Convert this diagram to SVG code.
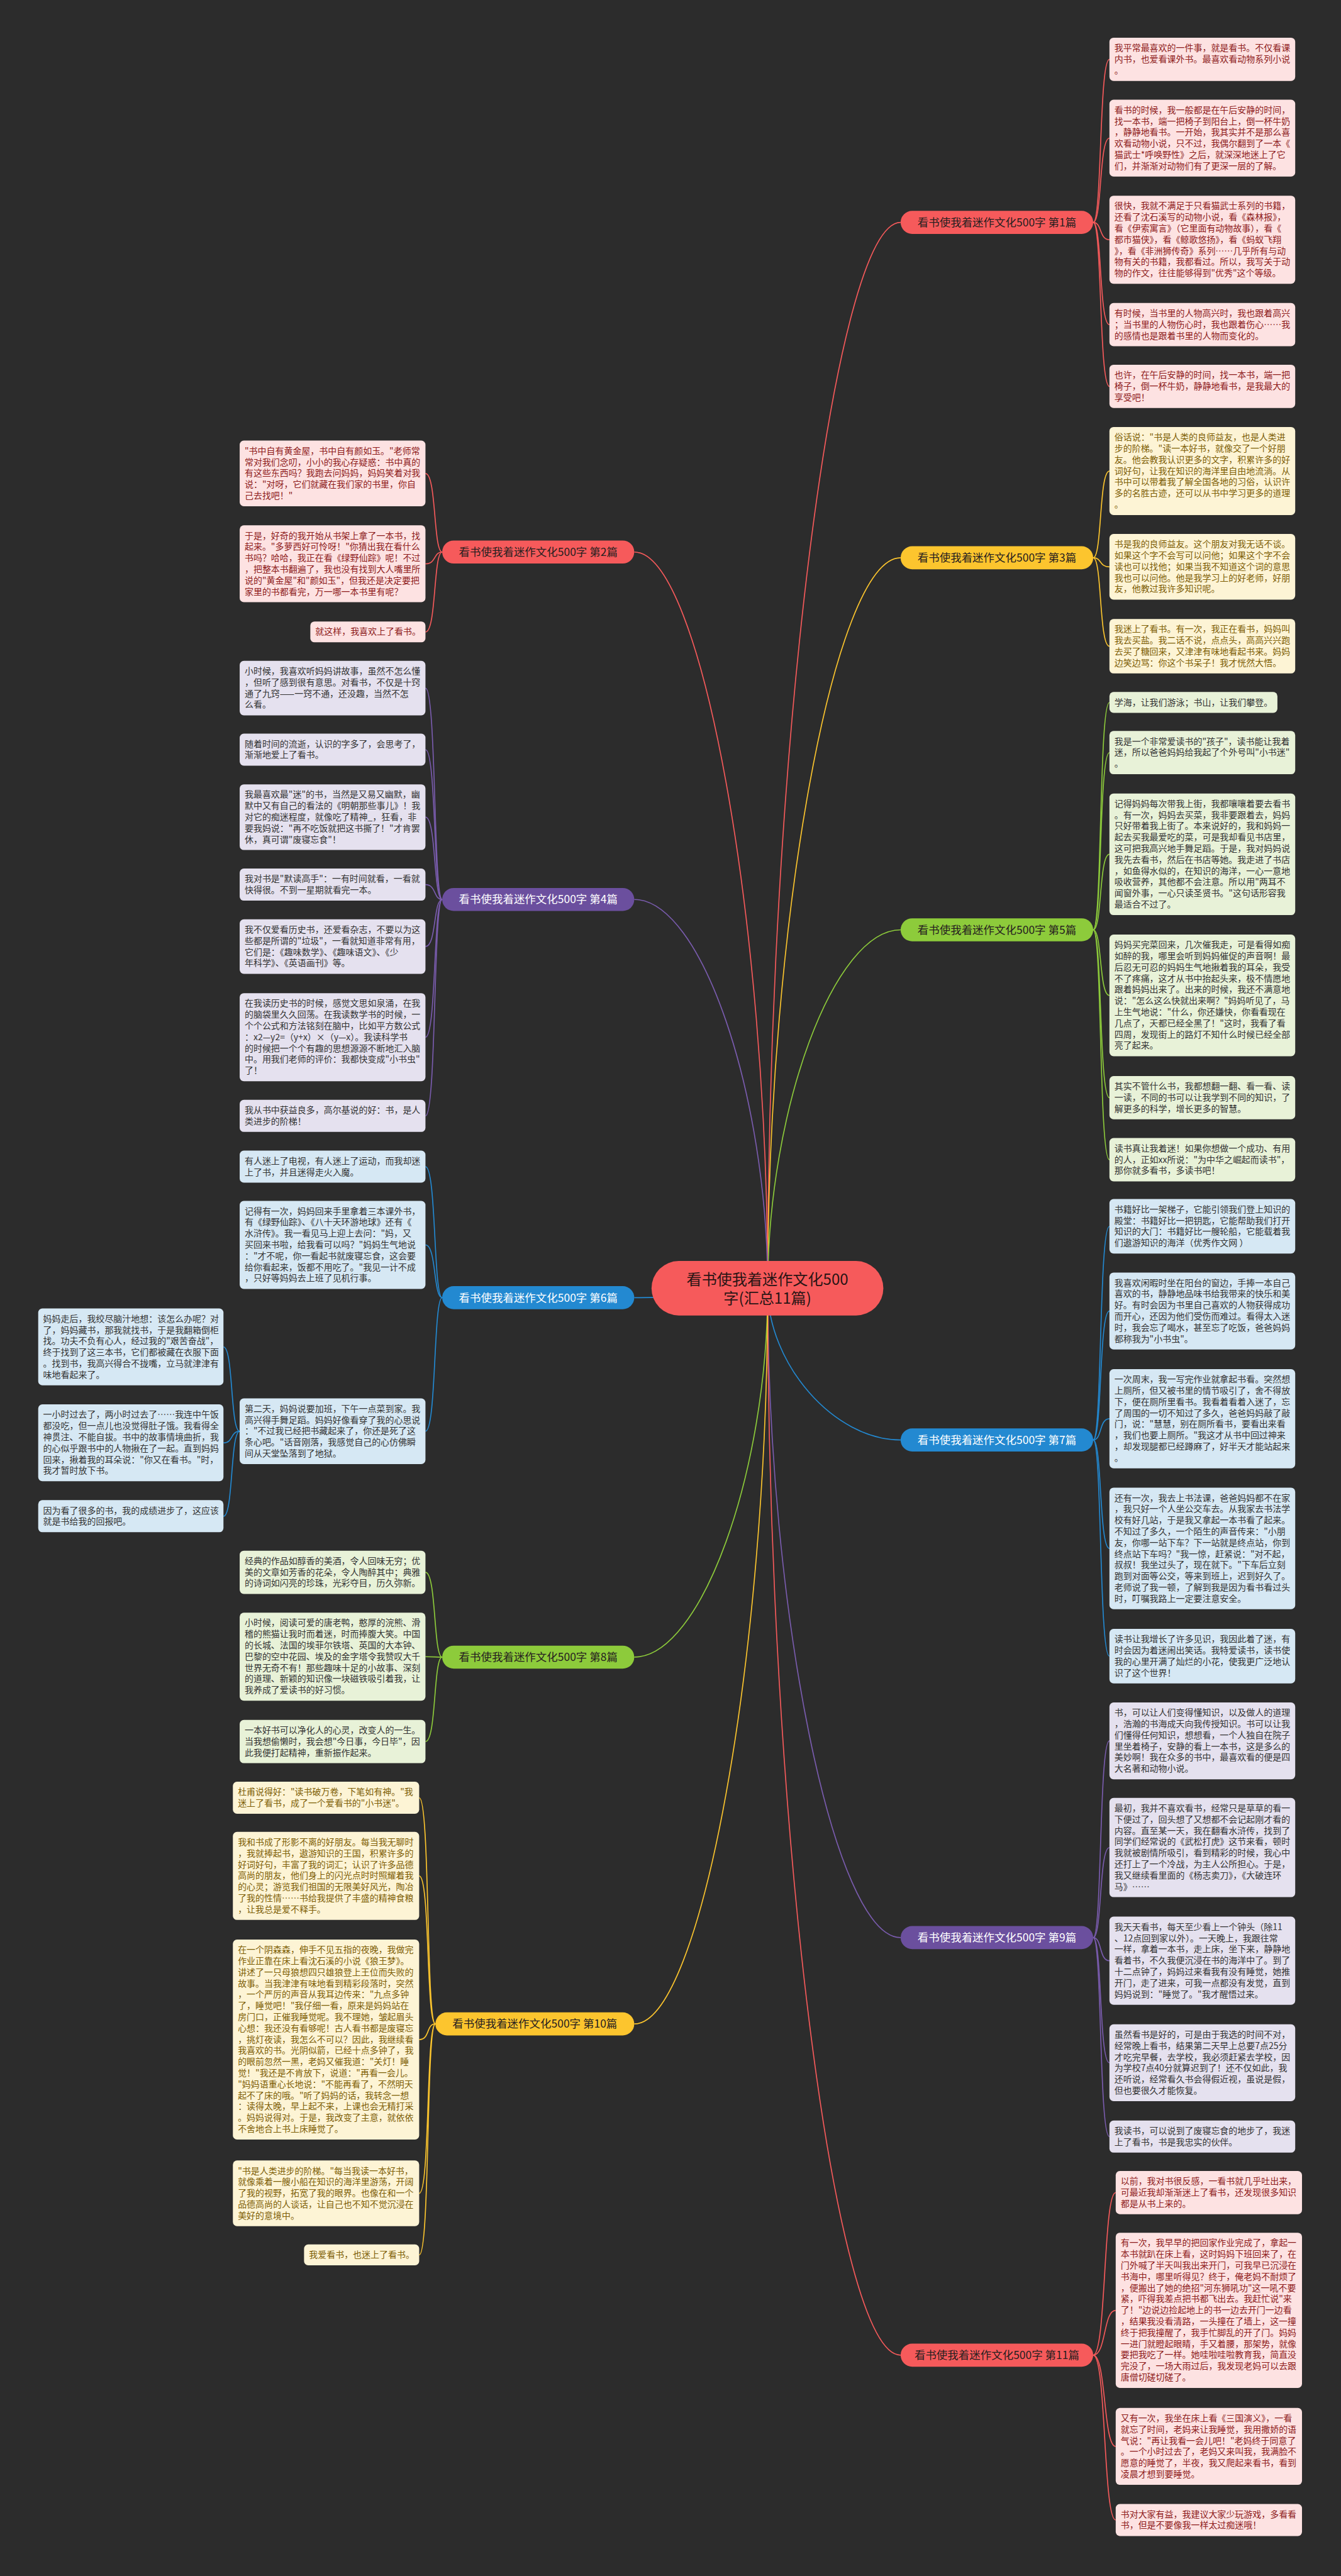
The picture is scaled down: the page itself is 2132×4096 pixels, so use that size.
<svg xmlns="http://www.w3.org/2000/svg" width="2132" height="4096" viewBox="0 0 2132 4096">
<style>
.lf{font-family:"Noto Sans CJK SC","Noto Sans",sans-serif;font-size:16.8px}
.br{font-family:"Noto Sans CJK SC","Noto Sans",sans-serif;font-size:21px;text-anchor:middle}
.ct{font-family:"Noto Sans CJK SC","Noto Sans",sans-serif;font-size:29px;text-anchor:middle;fill:#2a1515}
.bR{fill:#f65a5b}.bY{fill:#fcc52e}.bP{fill:#6b4f9e}.bG{fill:#8dcb3b}.bB{fill:#2389d1}
.kR{fill:#fde2e2}.kY{fill:#fdf4d5}.kG{fill:#e8f2d8}.kB{fill:#d6e8f4}.kP{fill:#e5e1ef}
.tR{fill:#8e1b1b}.tY{fill:#7d5e06}.tG{fill:#333}.tB{fill:#333}.tP{fill:#333}
.dk{fill:#262020}.wt{fill:#ffffff}
.c{fill:none;stroke-width:2}
.cR{stroke:#f65a5b}.cY{stroke:#fcc52e}.cP{stroke:#7a5cae}.cG{stroke:#8dcb3b}.cB{stroke:#2389d1}
</style>
<rect width="2132" height="4096" fill="#2c2c2c"/>
<g transform="scale(0.832)">
<g id="connectors">
<path class="c cR" d="M1467,2462 C1467,1443.5 1594,425 1721,425"/>
<path class="c cY" d="M1467,2462 C1467,1764 1594,1066 1721,1066"/>
<path class="c cG" d="M1467,2462 C1467,2119.5 1594,1777 1721,1777"/>
<path class="c cB" d="M1467,2462 C1467,2607 1594,2752 1721,2752"/>
<path class="c cP" d="M1467,2462 C1467,3082.5 1594,3703 1721,3703"/>
<path class="c cR" d="M1467,2462 C1467,3481.5 1594,4501 1721,4501"/>
<path class="c cR" d="M1467,2462 C1467,1758.5 1339.5,1055 1212,1055"/>
<path class="c cP" d="M1467,2462 C1467,2090.5 1339.5,1719 1212,1719"/>
<path class="c cB" d="M1467,2462 C1467,2471 1339.5,2480 1212,2480"/>
<path class="c cG" d="M1467,2462 C1467,2814.5 1339.5,3167 1212,3167"/>
<path class="c cY" d="M1467,2462 C1467,3165 1339.5,3868 1212,3868"/>
<!-- 1 -->
<path class="c cR" d="M2089,425 C2106,425 2100,113.4 2120,113.4"/>
<path class="c cR" d="M2089,425 C2106,425 2100,264.1 2120,264.1"/>
<path class="c cR" d="M2089,425 C2106,425 2100,458.2 2120,458.2"/>
<path class="c cR" d="M2089,425 C2106,425 2100,620.4 2120,620.4"/>
<path class="c cR" d="M2089,425 C2106,425 2100,738.4 2120,738.4"/>
<!-- 3 -->
<path class="c cY" d="M2089,1066 C2106,1066 2100,900.2 2120,900.2"/>
<path class="c cY" d="M2089,1066 C2106,1066 2100,1083.3 2120,1083.3"/>
<path class="c cY" d="M2089,1066 C2106,1066 2100,1235.1 2120,1235.1"/>
<!-- 5 -->
<path class="c cG" d="M2089,1777 C2106,1777 2100,1342.5 2120,1342.5"/>
<path class="c cG" d="M2089,1777 C2106,1777 2100,1438.4 2120,1438.4"/>
<path class="c cG" d="M2089,1777 C2106,1777 2100,1632.7 2120,1632.7"/>
<path class="c cG" d="M2089,1777 C2106,1777 2100,1902.3 2120,1902.3"/>
<path class="c cG" d="M2089,1777 C2106,1777 2100,2097.9 2120,2097.9"/>
<path class="c cG" d="M2089,1777 C2106,1777 2100,2216.4 2120,2216.4"/>
<!-- 7 -->
<path class="c cB" d="M2089,2752 C2106,2752 2100,2343.7 2120,2343.7"/>
<path class="c cB" d="M2089,2752 C2106,2752 2100,2505.5 2120,2505.5"/>
<path class="c cB" d="M2089,2752 C2106,2752 2100,2711.4 2120,2711.4"/>
<path class="c cB" d="M2089,2752 C2106,2752 2100,2959.3 2120,2959.3"/>
<path class="c cB" d="M2089,2752 C2106,2752 2100,3165.1 2120,3165.1"/>
<!-- 9 -->
<path class="c cP" d="M2089,3703 C2106,3703 2100,3327.1 2120,3327.1"/>
<path class="c cP" d="M2089,3703 C2106,3703 2100,3530.9 2120,3530.9"/>
<path class="c cP" d="M2089,3703 C2106,3703 2100,3747.2 2120,3747.2"/>
<path class="c cP" d="M2089,3703 C2106,3703 2100,3942.2 2120,3942.2"/>
<path class="c cP" d="M2089,3703 C2106,3703 2100,4083.4 2120,4083.4"/>
<!-- 11 -->
<path class="c cR" d="M2089,4501 C2114,4501 2108,4190.4 2132,4190.4"/>
<path class="c cR" d="M2089,4501 C2114,4501 2108,4415.4 2132,4415.4"/>
<path class="c cR" d="M2089,4501 C2114,4501 2108,4675.5 2132,4675.5"/>
<path class="c cR" d="M2089,4501 C2114,4501 2108,4816.1 2132,4816.1"/>
<!-- 2 -->
<path class="c cR" d="M845,1055 C828,1055 834,904.8 813,904.8"/>
<path class="c cR" d="M845,1055 C828,1055 834,1077.5 813,1077.5"/>
<path class="c cR" d="M845,1055 C828,1055 834,1207.7 813,1207.7"/>
<!-- 4 -->
<path class="c cP" d="M845,1719 C828,1719 834,1315.1 813,1315.1"/>
<path class="c cP" d="M845,1719 C828,1719 834,1432.7 813,1432.7"/>
<path class="c cP" d="M845,1719 C828,1719 834,1561.8 813,1561.8"/>
<path class="c cP" d="M845,1719 C828,1719 834,1690.7 813,1690.7"/>
<path class="c cP" d="M845,1719 C828,1719 834,1809.1 813,1809.1"/>
<path class="c cP" d="M845,1719 C828,1719 834,1982.2 813,1982.2"/>
<path class="c cP" d="M845,1719 C828,1719 834,2132.7 813,2132.7"/>
<!-- 6 -->
<path class="c cB" d="M845,2480 C828,2480 834,2229.7 813,2229.7"/>
<path class="c cB" d="M845,2480 C828,2480 834,2379.2 813,2379.2"/>
<path class="c cB" d="M845,2480 C828,2480 834,2735.3 813,2735.3"/>
<path class="c cB" d="M458,2735.3 C440,2735.3 446,2574.2 427,2574.2"/>
<path class="c cB" d="M458,2735.3 C440,2735.3 446,2757.5 427,2757.5"/>
<path class="c cB" d="M458,2735.3 C440,2735.3 446,2897.7 427,2897.7"/>
<!-- 8 -->
<path class="c cG" d="M845,3167 C828,3167 834,3004.9 813,3004.9"/>
<path class="c cG" d="M845,3167 C828,3167 834,3166.2 813,3166.2"/>
<path class="c cG" d="M845,3167 C828,3167 834,3328.4 813,3328.4"/>
<!-- 10 -->
<path class="c cY" d="M832,3868 C814,3868 822,3435.7 801,3435.7"/>
<path class="c cY" d="M832,3868 C814,3868 822,3585.2 801,3585.2"/>
<path class="c cY" d="M832,3868 C814,3868 822,3897.9 801,3897.9"/>
<path class="c cY" d="M832,3868 C814,3868 822,4191.8 801,4191.8"/>
<path class="c cY" d="M832,3868 C814,3868 822,4309.5 801,4309.5"/>
</g>

<g id="center"><rect class="bR" x="1245" y="2410" width="443" height="104" rx="52"/>
<text class="ct" x="1466.5" y="2456">看书使我着迷作文化500</text><text class="ct" x="1466.5" y="2492">字(汇总11篇)</text></g>

<g id="b1"><rect class="bR" x="1721" y="403" width="368" height="44" rx="22"/><text class="br dk" x="1905" y="432.5">看书使我着迷作文化500字 第1篇</text></g>
<g id="b3"><rect class="bY" x="1721" y="1044" width="368" height="44" rx="22"/><text class="br dk" x="1905" y="1073.5">看书使我着迷作文化500字 第3篇</text></g>
<g id="b5"><rect class="bG" x="1721" y="1755" width="368" height="44" rx="22"/><text class="br dk" x="1905" y="1784.5">看书使我着迷作文化500字 第5篇</text></g>
<g id="b7"><rect class="bB" x="1721" y="2730" width="368" height="44" rx="22"/><text class="br wt" x="1905" y="2759.5">看书使我着迷作文化500字 第7篇</text></g>
<g id="b9"><rect class="bP" x="1721" y="3681" width="368" height="44" rx="22"/><text class="br wt" x="1905" y="3710.5">看书使我着迷作文化500字 第9篇</text></g>
<g id="b11"><rect class="bR" x="1721" y="4479" width="368" height="44" rx="22"/><text class="br dk" x="1905" y="4508.5">看书使我着迷作文化500字 第11篇</text></g>
<g id="b2"><rect class="bR" x="845" y="1033" width="367" height="44" rx="22"/><text class="br dk" x="1028.5" y="1062.5">看书使我着迷作文化500字 第2篇</text></g>
<g id="b4"><rect class="bP" x="845" y="1697" width="367" height="44" rx="22"/><text class="br wt" x="1028.5" y="1726.5">看书使我着迷作文化500字 第4篇</text></g>
<g id="b6"><rect class="bB" x="845" y="2458" width="367" height="44" rx="22"/><text class="br wt" x="1028.5" y="2487.5">看书使我着迷作文化500字 第6篇</text></g>
<g id="b8"><rect class="bG" x="845" y="3145" width="367" height="44" rx="22"/><text class="br dk" x="1028.5" y="3174.5">看书使我着迷作文化500字 第8篇</text></g>
<g id="b10"><rect class="bY" x="832" y="3846" width="380" height="44" rx="22"/><text class="br dk" x="1022" y="3875.5">看书使我着迷作文化500字 第10篇</text></g>

<!-- Right leaves 1 -->
<g id="r1a"><rect class="kR" x="2120" y="72" width="355" height="82.7" rx="8"/><text class="lf tR" x="2129.5" y="97.5"><tspan x="2129.5" dy="0">我平常最喜欢的一件事，就是看书。不仅看课</tspan><tspan x="2129.5" dy="21.4">内书，也爱看课外书。最喜欢看动物系列小说</tspan><tspan x="2129.5" dy="21.4">。</tspan></text></g>
<g id="r1b"><rect class="kR" x="2120" y="190.6" width="355" height="146.9" rx="8"/><text class="lf tR" x="2129.5" y="216.1"><tspan x="2129.5" dy="0">看书的时候，我一般都是在午后安静的时间，</tspan><tspan x="2129.5" dy="21.4">找一本书，端一把椅子到阳台上，倒一杯牛奶</tspan><tspan x="2129.5" dy="21.4">，静静地看书。一开始，我其实并不是那么喜</tspan><tspan x="2129.5" dy="21.4">欢看动物小说，只不过，我偶尔翻到了一本《</tspan><tspan x="2129.5" dy="21.4">猫武士*呼唤野性》之后，就深深地迷上了它</tspan><tspan x="2129.5" dy="21.4">们，并渐渐对动物们有了更深一层的了解。</tspan></text></g>
<g id="r1c"><rect class="kR" x="2120" y="374" width="355" height="168.3" rx="8"/><text class="lf tR" x="2129.5" y="399.5"><tspan x="2129.5" dy="0">很快，我就不满足于只看猫武士系列的书籍，</tspan><tspan x="2129.5" dy="21.4">还看了沈石溪写的动物小说，看《森林报》，</tspan><tspan x="2129.5" dy="21.4">看《伊索寓言》（它里面有动物故事），看《</tspan><tspan x="2129.5" dy="21.4">都市猫侠》，看《鲸歌悠扬》，看《蚂蚁飞翔</tspan><tspan x="2129.5" dy="21.4">》，看《非洲狮传奇》系列……几乎所有与动</tspan><tspan x="2129.5" dy="21.4">物有关的书籍，我都看过。所以，我写关于动</tspan><tspan x="2129.5" dy="21.4">物的作文，往往能够得到"优秀"这个等级。</tspan></text></g>
<g id="r1d"><rect class="kR" x="2120" y="579" width="355" height="82.7" rx="8"/><text class="lf tR" x="2129.5" y="604.5"><tspan x="2129.5" dy="0">有时候，当书里的人物高兴时，我也跟着高兴</tspan><tspan x="2129.5" dy="21.4">；当书里的人物伤心时，我也跟着伤心……我</tspan><tspan x="2129.5" dy="21.4">的感情也是跟着书里的人物而变化的。</tspan></text></g>
<g id="r1e"><rect class="kR" x="2120" y="697" width="355" height="82.7" rx="8"/><text class="lf tR" x="2129.5" y="722.5"><tspan x="2129.5" dy="0">也许，在午后安静的时间，找一本书，端一把</tspan><tspan x="2129.5" dy="21.4">椅子，倒一杯牛奶，静静地看书，是我最大的</tspan><tspan x="2129.5" dy="21.4">享受吧！</tspan></text></g>

<!-- Right leaves 3 -->
<g id="r3a"><rect class="kY" x="2120" y="816" width="355" height="168.3" rx="8"/><text class="lf tY" x="2129.5" y="841.5"><tspan x="2129.5" dy="0">俗话说："书是人类的良师益友，也是人类进</tspan><tspan x="2129.5" dy="21.4">步的阶梯。"读一本好书，就像交了一个好朋</tspan><tspan x="2129.5" dy="21.4">友。他会教我认识更多的文字，积累许多的好</tspan><tspan x="2129.5" dy="21.4">词好句，让我在知识的海洋里自由地流淌。从</tspan><tspan x="2129.5" dy="21.4">书中可以带着我了解全国各地的习俗，认识许</tspan><tspan x="2129.5" dy="21.4">多的名胜古迹，还可以从书中学习更多的道理</tspan><tspan x="2129.5" dy="21.4">。</tspan></text></g>
<g id="r3b"><rect class="kY" x="2120" y="1020.5" width="355" height="125.5" rx="8"/><text class="lf tY" x="2129.5" y="1046"><tspan x="2129.5" dy="0">书是我的良师益友。这个朋友对我无话不谈。</tspan><tspan x="2129.5" dy="21.4">如果这个字不会写可以问他；如果这个字不会</tspan><tspan x="2129.5" dy="21.4">读也可以找他；如果当我不知道这个词的意思</tspan><tspan x="2129.5" dy="21.4">我也可以问他。他是我学习上的好老师，好朋</tspan><tspan x="2129.5" dy="21.4">友，他教过我许多知识呢。</tspan></text></g>
<g id="r3c"><rect class="kY" x="2120" y="1183" width="355" height="104.1" rx="8"/><text class="lf tY" x="2129.5" y="1208.5"><tspan x="2129.5" dy="0">我迷上了看书。有一次，我正在看书，妈妈叫</tspan><tspan x="2129.5" dy="21.4">我去买盐。我二话不说，点点头，高高兴兴跑</tspan><tspan x="2129.5" dy="21.4">去买了糖回来，又津津有味地看起书来。妈妈</tspan><tspan x="2129.5" dy="21.4">边笑边骂：你这个书呆子！我才恍然大悟。</tspan></text></g>

<!-- Right leaves 5 -->
<g id="r5a"><rect class="kG" x="2120" y="1322.5" width="321" height="39.9" rx="8"/><text class="lf tG" x="2129.5" y="1348"><tspan x="2129.5" dy="0">学海，让我们游泳；书山，让我们攀登。</tspan></text></g>
<g id="r5b"><rect class="kG" x="2120" y="1397" width="355" height="82.7" rx="8"/><text class="lf tG" x="2129.5" y="1422.5"><tspan x="2129.5" dy="0">我是一个非常爱读书的"孩子"，读书能让我着</tspan><tspan x="2129.5" dy="21.4">迷，所以爸爸妈妈给我起了个外号叫"小书迷"</tspan><tspan x="2129.5" dy="21.4">。</tspan></text></g>
<g id="r5c"><rect class="kG" x="2120" y="1516.4" width="355" height="232.5" rx="8"/><text class="lf tG" x="2129.5" y="1541.9"><tspan x="2129.5" dy="0">记得妈妈每次带我上街，我都嚷嚷着要去看书</tspan><tspan x="2129.5" dy="21.4">。有一次，妈妈去买菜，我非要跟着去，妈妈</tspan><tspan x="2129.5" dy="21.4">只好带着我上街了。本来说好的，我和妈妈一</tspan><tspan x="2129.5" dy="21.4">起去买我最爱吃的菜，可是我却看见书店里，</tspan><tspan x="2129.5" dy="21.4">这可把我高兴地手舞足蹈。于是，我对妈妈说</tspan><tspan x="2129.5" dy="21.4">我先去看书，然后在书店等她。我走进了书店</tspan><tspan x="2129.5" dy="21.4">，如鱼得水似的，在知识的海洋，一心一意地</tspan><tspan x="2129.5" dy="21.4">吸收营养，其他都不会注意。所以用"两耳不</tspan><tspan x="2129.5" dy="21.4">闻窗外事，一心只读圣贤书。"这句话形容我</tspan><tspan x="2129.5" dy="21.4">最适合不过了。</tspan></text></g>
<g id="r5d"><rect class="kG" x="2120" y="1786" width="355" height="232.5" rx="8"/><text class="lf tG" x="2129.5" y="1811.5"><tspan x="2129.5" dy="0">妈妈买完菜回来，几次催我走，可是看得如痴</tspan><tspan x="2129.5" dy="21.4">如醉的我，哪里会听到妈妈催促的声音啊！最</tspan><tspan x="2129.5" dy="21.4">后忍无可忍的妈妈生气地揪着我的耳朵，我受</tspan><tspan x="2129.5" dy="21.4">不了疼痛，这才从书中抬起头来，极不情愿地</tspan><tspan x="2129.5" dy="21.4">跟着妈妈出来了。出来的时候，我还不满意地</tspan><tspan x="2129.5" dy="21.4">说："怎么这么快就出来啊？"妈妈听见了，马</tspan><tspan x="2129.5" dy="21.4">上生气地说："什么，你还嫌快，你看看现在</tspan><tspan x="2129.5" dy="21.4">几点了，天都已经全黑了！"这时，我看了看</tspan><tspan x="2129.5" dy="21.4">四周，发现街上的路灯不知什么时候已经全部</tspan><tspan x="2129.5" dy="21.4">亮了起来。</tspan></text></g>
<g id="r5e"><rect class="kG" x="2120" y="2056.5" width="355" height="82.7" rx="8"/><text class="lf tG" x="2129.5" y="2082"><tspan x="2129.5" dy="0">其实不管什么书，我都想翻一翻、看一看、读</tspan><tspan x="2129.5" dy="21.4">一读，不同的书可以让我学到不同的知识，了</tspan><tspan x="2129.5" dy="21.4">解更多的科学，增长更多的智慧。</tspan></text></g>
<g id="r5f"><rect class="kG" x="2120" y="2175" width="355" height="82.7" rx="8"/><text class="lf tG" x="2129.5" y="2200.5"><tspan x="2129.5" dy="0">读书真让我着迷！如果你想做一个成功、有用</tspan><tspan x="2129.5" dy="21.4">的人，正如xx所说："为中华之崛起而读书"，</tspan><tspan x="2129.5" dy="21.4">那你就多看书，多读书吧！</tspan></text></g>

<!-- Right leaves 7 -->
<g id="r7a"><rect class="kB" x="2120" y="2291.6" width="355" height="104.1" rx="8"/><text class="lf tB" x="2129.5" y="2317.1"><tspan x="2129.5" dy="0">书籍好比一架梯子，它能引领我们登上知识的</tspan><tspan x="2129.5" dy="21.4">殿堂：书籍好比一把钥匙，它能帮助我们打开</tspan><tspan x="2129.5" dy="21.4">知识的大门：书籍好比一艘轮船，它能载着我</tspan><tspan x="2129.5" dy="21.4">们遨游知识的海洋（优秀作文网 ）</tspan></text></g>
<g id="r7b"><rect class="kB" x="2120" y="2432" width="355" height="146.9" rx="8"/><text class="lf tB" x="2129.5" y="2457.5"><tspan x="2129.5" dy="0">我喜欢闲暇时坐在阳台的窗边，手捧一本自己</tspan><tspan x="2129.5" dy="21.4">喜欢的书，静静地品味书给我带来的快乐和美</tspan><tspan x="2129.5" dy="21.4">好。有时会因为书里自己喜欢的人物获得成功</tspan><tspan x="2129.5" dy="21.4">而开心，还因为他们受伤而难过。看得太入迷</tspan><tspan x="2129.5" dy="21.4">时，我会忘了喝水，甚至忘了吃饭，爸爸妈妈</tspan><tspan x="2129.5" dy="21.4">都称我为"小书虫"。</tspan></text></g>
<g id="r7c"><rect class="kB" x="2120" y="2616.5" width="355" height="189.7" rx="8"/><text class="lf tB" x="2129.5" y="2642"><tspan x="2129.5" dy="0">一次周末，我一写完作业就拿起书看。突然想</tspan><tspan x="2129.5" dy="21.4">上厕所，但又被书里的情节吸引了，舍不得放</tspan><tspan x="2129.5" dy="21.4">下，便在厕所里看书。我看着看着入迷了，忘</tspan><tspan x="2129.5" dy="21.4">了周围的一切不知过了多久，爸爸妈妈敲了敲</tspan><tspan x="2129.5" dy="21.4">门，说："慧慧，别在厕所看书，要看出来看</tspan><tspan x="2129.5" dy="21.4">，我们也要上厕所。"我这才从书中回过神来</tspan><tspan x="2129.5" dy="21.4">，却发现腿都已经蹲麻了，好半天才能站起来</tspan><tspan x="2129.5" dy="21.4">。</tspan></text></g>
<g id="r7d"><rect class="kB" x="2120" y="2843" width="355" height="232.5" rx="8"/><text class="lf tB" x="2129.5" y="2868.5"><tspan x="2129.5" dy="0">还有一次，我去上书法课，爸爸妈妈都不在家</tspan><tspan x="2129.5" dy="21.4">，我只好一个人坐公交车去。从我家去书法学</tspan><tspan x="2129.5" dy="21.4">校有好几站，于是我又拿起一本书看了起来。</tspan><tspan x="2129.5" dy="21.4">不知过了多久，一个陌生的声音传来："小朋</tspan><tspan x="2129.5" dy="21.4">友，你哪一站下车？下一站就是终点站，你到</tspan><tspan x="2129.5" dy="21.4">终点站下车吗？"我一惊，赶紧说："对不起，</tspan><tspan x="2129.5" dy="21.4">叔叔！我坐过头了，现在就下。"下车后立刻</tspan><tspan x="2129.5" dy="21.4">跑到对面等公交，等来到班上，迟到好久了。</tspan><tspan x="2129.5" dy="21.4">老师说了我一顿，了解到我是因为看书看过头</tspan><tspan x="2129.5" dy="21.4">时，叮嘱我路上一定要注意安全。</tspan></text></g>
<g id="r7e"><rect class="kB" x="2120" y="3113" width="355" height="104.1" rx="8"/><text class="lf tB" x="2129.5" y="3138.5"><tspan x="2129.5" dy="0">读书让我增长了许多见识，我因此着了迷，有</tspan><tspan x="2129.5" dy="21.4">时会因为着迷闹出笑话。我特爱读书，读书使</tspan><tspan x="2129.5" dy="21.4">我的心里开满了灿烂的小花，使我更广泛地认</tspan><tspan x="2129.5" dy="21.4">识了这个世界！</tspan></text></g>

<!-- Right leaves 9 -->
<g id="r9a"><rect class="kP" x="2120" y="3253.6" width="355" height="146.9" rx="8"/><text class="lf tP" x="2129.5" y="3279.1"><tspan x="2129.5" dy="0">书，可以让人们变得懂知识，以及做人的道理</tspan><tspan x="2129.5" dy="21.4">，浩瀚的书海成天向我传授知识。书可以让我</tspan><tspan x="2129.5" dy="21.4">们懂得任何知识，想想看，一个人独自在院子</tspan><tspan x="2129.5" dy="21.4">里坐着椅子，安静的看上一本书，这是多么的</tspan><tspan x="2129.5" dy="21.4">美妙啊！我在众多的书中，最喜欢看的便是四</tspan><tspan x="2129.5" dy="21.4">大名著和动物小说。</tspan></text></g>
<g id="r9b"><rect class="kP" x="2120" y="3436" width="355" height="189.7" rx="8"/><text class="lf tP" x="2129.5" y="3461.5"><tspan x="2129.5" dy="0">最初，我并不喜欢看书，经常只是草草的看一</tspan><tspan x="2129.5" dy="21.4">下便过了，回头想了又想都不会记起刚才看的</tspan><tspan x="2129.5" dy="21.4">内容。直至某一天，我在翻看水浒传，找到了</tspan><tspan x="2129.5" dy="21.4">同学们经常说的《武松打虎》这节来看，顿时</tspan><tspan x="2129.5" dy="21.4">我就被剧情所吸引，看到精彩的时候，我心中</tspan><tspan x="2129.5" dy="21.4">还打上了一个冷战，为主人公所担心。于是，</tspan><tspan x="2129.5" dy="21.4">我又继续看里面的《杨志卖刀》，《大破连环</tspan><tspan x="2129.5" dy="21.4">马》……</tspan></text></g>
<g id="r9c"><rect class="kP" x="2120" y="3663" width="355" height="168.3" rx="8"/><text class="lf tP" x="2129.5" y="3688.5"><tspan x="2129.5" dy="0">我天天看书，每天至少看上一个钟头（除11</tspan><tspan x="2129.5" dy="21.4">、12点回到家以外）。一天晚上，我跟往常</tspan><tspan x="2129.5" dy="21.4">一样，拿着一本书，走上床，坐下来，静静地</tspan><tspan x="2129.5" dy="21.4">看着书，不久我便沉浸在书的海洋中了。到了</tspan><tspan x="2129.5" dy="21.4">十二点钟了，妈妈过来看我有没有睡觉，她推</tspan><tspan x="2129.5" dy="21.4">开门，走了进来，可我一点都没有发觉，直到</tspan><tspan x="2129.5" dy="21.4">妈妈说到："睡觉了。"我才醒悟过来。</tspan></text></g>
<g id="r9d"><rect class="kP" x="2120" y="3868.7" width="355" height="146.9" rx="8"/><text class="lf tP" x="2129.5" y="3894.2"><tspan x="2129.5" dy="0">虽然看书是好的，可是由于我选的时间不对，</tspan><tspan x="2129.5" dy="21.4">经常晚上看书，结果第二天早上总要7点25分</tspan><tspan x="2129.5" dy="21.4">才吃完早餐，去学校，我必须赶紧去学校，因</tspan><tspan x="2129.5" dy="21.4">为学校7点40分就算迟到了！还不仅如此，我</tspan><tspan x="2129.5" dy="21.4">还听说，经常看久书会得假近视，虽说是假，</tspan><tspan x="2129.5" dy="21.4">但也要很久才能恢复。</tspan></text></g>
<g id="r9e"><rect class="kP" x="2120" y="4052.7" width="355" height="61.3" rx="8"/><text class="lf tP" x="2129.5" y="4078.2"><tspan x="2129.5" dy="0">我读书，可以说到了废寝忘食的地步了，我迷</tspan><tspan x="2129.5" dy="21.4">上了看书，书是我忠实的伙伴。</tspan></text></g>

<!-- Right leaves 11 -->
<g id="r11a"><rect class="kR" x="2132" y="4149" width="356" height="82.7" rx="8"/><text class="lf tR" x="2141.5" y="4174.5"><tspan x="2141.5" dy="0">以前，我对书很反感，一看书就几乎吐出来，</tspan><tspan x="2141.5" dy="21.4">可最近我却渐渐迷上了看书，还发现很多知识</tspan><tspan x="2141.5" dy="21.4">都是从书上来的。</tspan></text></g>
<g id="r11b"><rect class="kR" x="2132" y="4267" width="356" height="296.7" rx="8"/><text class="lf tR" x="2141.5" y="4292.5"><tspan x="2141.5" dy="0">有一次，我早早的把回家作业完成了，拿起一</tspan><tspan x="2141.5" dy="21.4">本书就趴在床上看，这时妈妈下班回来了，在</tspan><tspan x="2141.5" dy="21.4">门外喊了半天叫我出来开门，可我早已沉浸在</tspan><tspan x="2141.5" dy="21.4">书海中，哪里听得见？终于，俺老妈不耐烦了</tspan><tspan x="2141.5" dy="21.4">，便搬出了她的绝招"河东狮吼功"这一吼不要</tspan><tspan x="2141.5" dy="21.4">紧，吓得我差点把书都飞出去。我赶忙说"来</tspan><tspan x="2141.5" dy="21.4">了！"边说边捡起地上的书一边去开门一边看</tspan><tspan x="2141.5" dy="21.4">，结果我没看清路，一头撞在了墙上，这一撞</tspan><tspan x="2141.5" dy="21.4">终于把我撞醒了，我手忙脚乱的开了门。妈妈</tspan><tspan x="2141.5" dy="21.4">一进门就瞪起眼睛，手又着腰，那架势，就像</tspan><tspan x="2141.5" dy="21.4">要把我吃了一样。她哇啦哇啦教育我，简直没</tspan><tspan x="2141.5" dy="21.4">完没了，一场大雨过后，我发现老妈可以去跟</tspan><tspan x="2141.5" dy="21.4">唐僧切磋切磋了。</tspan></text></g>
<g id="r11c"><rect class="kR" x="2132" y="4602" width="356" height="146.9" rx="8"/><text class="lf tR" x="2141.5" y="4627.5"><tspan x="2141.5" dy="0">又有一次，我坐在床上看《三国演义》，一看</tspan><tspan x="2141.5" dy="21.4">就忘了时间，老妈来让我睡觉，我用撒娇的语</tspan><tspan x="2141.5" dy="21.4">气说："再让我看一会儿吧！"老妈终于同意了</tspan><tspan x="2141.5" dy="21.4">。一个小时过去了，老妈又来叫我，我满脸不</tspan><tspan x="2141.5" dy="21.4">愿意的睡觉了，半夜，我又爬起来看书，看到</tspan><tspan x="2141.5" dy="21.4">凌晨才想到要睡觉。</tspan></text></g>
<g id="r11d"><rect class="kR" x="2132" y="4785.4" width="356" height="61.3" rx="8"/><text class="lf tR" x="2141.5" y="4810.9"><tspan x="2141.5" dy="0">书对大家有益，我建议大家少玩游戏，多看看</tspan><tspan x="2141.5" dy="21.4">书，但是不要像我一样太过痴迷哦！</tspan></text></g>

<!-- Left leaves 2 -->
<g id="l2a"><rect class="kR" x="458" y="842" width="355" height="125.5" rx="8"/><text class="lf tR" x="467.5" y="867.5"><tspan x="467.5" dy="0">"书中自有黄金屋，书中自有颜如玉。"老师常</tspan><tspan x="467.5" dy="21.4">常对我们念叨，小小的我心存疑惑：书中真的</tspan><tspan x="467.5" dy="21.4">有这些东西吗？我跑去问妈妈，妈妈笑着对我</tspan><tspan x="467.5" dy="21.4">说："对呀，它们就藏在我们家的书里，你自</tspan><tspan x="467.5" dy="21.4">己去找吧！"</tspan></text></g>
<g id="l2b"><rect class="kR" x="458" y="1004" width="355" height="146.9" rx="8"/><text class="lf tR" x="467.5" y="1029.5"><tspan x="467.5" dy="0">于是，好奇的我开始从书架上拿了一本书，找</tspan><tspan x="467.5" dy="21.4">起来。"多萝西好可怜呀！"你猜出我在看什么</tspan><tspan x="467.5" dy="21.4">书吗？哈哈，我正在看《绿野仙踪》呢！不过</tspan><tspan x="467.5" dy="21.4">，把整本书翻遍了，我也没有找到大人嘴里所</tspan><tspan x="467.5" dy="21.4">说的"黄金屋"和"颜如玉"，但我还是决定要把</tspan><tspan x="467.5" dy="21.4">家里的书都看完，万一哪一本书里有呢？</tspan></text></g>
<g id="l2c"><rect class="kR" x="593" y="1187.7" width="220" height="39.9" rx="8"/><text class="lf tR" x="602.5" y="1213.2"><tspan x="602.5" dy="0">就这样，我喜欢上了看书。</tspan></text></g>

<!-- Left leaves 4 -->
<g id="l4a"><rect class="kP" x="458" y="1263" width="355" height="104.1" rx="8"/><text class="lf tP" x="467.5" y="1288.5"><tspan x="467.5" dy="0">小时候，我喜欢听妈妈讲故事，虽然不怎么懂</tspan><tspan x="467.5" dy="21.4">，但听了感到很有意思。对看书，不仅是十窍</tspan><tspan x="467.5" dy="21.4">通了九窍——一窍不通，还没趣，当然不怎</tspan><tspan x="467.5" dy="21.4">么看。</tspan></text></g>
<g id="l4b"><rect class="kP" x="458" y="1402" width="355" height="61.3" rx="8"/><text class="lf tP" x="467.5" y="1427.5"><tspan x="467.5" dy="0">随着时间的流逝，认识的字多了，会思考了，</tspan><tspan x="467.5" dy="21.4">渐渐地爱上了看书。</tspan></text></g>
<g id="l4c"><rect class="kP" x="458" y="1499" width="355" height="125.5" rx="8"/><text class="lf tP" x="467.5" y="1524.5"><tspan x="467.5" dy="0">我最喜欢最"迷"的书，当然是又易又幽默，幽</tspan><tspan x="467.5" dy="21.4">默中又有自己的看法的《明朝那些事儿》！我</tspan><tspan x="467.5" dy="21.4">对它的痴迷程度，就像吃了精神_，狂看，非</tspan><tspan x="467.5" dy="21.4">要我妈说："再不吃饭就把这书撕了！"才肯罢</tspan><tspan x="467.5" dy="21.4">休，真可谓"废寝忘食"！</tspan></text></g>
<g id="l4d"><rect class="kP" x="458" y="1660" width="355" height="61.3" rx="8"/><text class="lf tP" x="467.5" y="1685.5"><tspan x="467.5" dy="0">我对书是"默读高手"：一有时间就看，一看就</tspan><tspan x="467.5" dy="21.4">快得很。不到一星期就看完一本。</tspan></text></g>
<g id="l4e"><rect class="kP" x="458" y="1757" width="355" height="104.1" rx="8"/><text class="lf tP" x="467.5" y="1782.5"><tspan x="467.5" dy="0">我不仅爱看历史书，还爱看杂志，不要以为这</tspan><tspan x="467.5" dy="21.4">些都是所谓的"垃圾"，一看就知道非常有用，</tspan><tspan x="467.5" dy="21.4">它们是：《趣味数学》、《趣味语文》、《少</tspan><tspan x="467.5" dy="21.4">年科学》、《英语画刊》等。</tspan></text></g>
<g id="l4f"><rect class="kP" x="458" y="1898" width="355" height="168.3" rx="8"/><text class="lf tP" x="467.5" y="1923.5"><tspan x="467.5" dy="0">在我读历史书的时候，感觉文思如泉涌，在我</tspan><tspan x="467.5" dy="21.4">的脑袋里久久回荡。在我读数学书的时候，一</tspan><tspan x="467.5" dy="21.4">个个公式和方法铭刻在脑中，比如平方数公式</tspan><tspan x="467.5" dy="21.4">：x2—y2=（y+x）×（y—x）。我读科学书</tspan><tspan x="467.5" dy="21.4">的时候把一个个有趣的思想源源不断地汇入脑</tspan><tspan x="467.5" dy="21.4">中。用我们老师的评价：我都快变成"小书虫"</tspan><tspan x="467.5" dy="21.4">了！</tspan></text></g>
<g id="l4g"><rect class="kP" x="458" y="2102" width="355" height="61.3" rx="8"/><text class="lf tP" x="467.5" y="2127.5"><tspan x="467.5" dy="0">我从书中获益良多，高尔基说的好：书，是人</tspan><tspan x="467.5" dy="21.4">类进步的阶梯！</tspan></text></g>

<!-- Left leaves 6 -->
<g id="l6a"><rect class="kB" x="458" y="2199" width="355" height="61.3" rx="8"/><text class="lf tB" x="467.5" y="2224.5"><tspan x="467.5" dy="0">有人迷上了电视，有人迷上了运动，而我却迷</tspan><tspan x="467.5" dy="21.4">上了书，并且迷得走火入魔。</tspan></text></g>
<g id="l6b"><rect class="kB" x="458" y="2295" width="355" height="168.3" rx="8"/><text class="lf tB" x="467.5" y="2320.5"><tspan x="467.5" dy="0">记得有一次，妈妈回来手里拿着三本课外书，</tspan><tspan x="467.5" dy="21.4">有《绿野仙踪》、《八十天环游地球》还有《</tspan><tspan x="467.5" dy="21.4">水浒传》。我一看见马上迎上去问："妈，又</tspan><tspan x="467.5" dy="21.4">买回来书啦，给我看可以吗？"妈妈生气地说</tspan><tspan x="467.5" dy="21.4">："才不呢，你一看起书就废寝忘食，这会要</tspan><tspan x="467.5" dy="21.4">给你看起来，饭都不用吃了。"我见一计不成</tspan><tspan x="467.5" dy="21.4">，只好等妈妈去上班了见机行事。</tspan></text></g>
<g id="l6c"><rect class="kB" x="458" y="2672.5" width="355" height="125.5" rx="8"/><text class="lf tB" x="467.5" y="2698"><tspan x="467.5" dy="0">第二天，妈妈说要加班，下午一点菜到家。我</tspan><tspan x="467.5" dy="21.4">高兴得手舞足蹈。妈妈好像看穿了我的心思说</tspan><tspan x="467.5" dy="21.4">："不过我已经把书藏起来了，你还是死了这</tspan><tspan x="467.5" dy="21.4">条心吧。"话音刚落，我感觉自己的心仿佛瞬</tspan><tspan x="467.5" dy="21.4">间从天堂坠落到了地狱。</tspan></text></g>
<g id="fla"><rect class="kB" x="73" y="2500.7" width="354" height="146.9" rx="8"/><text class="lf tB" x="82.5" y="2526.2"><tspan x="82.5" dy="0">妈妈走后，我绞尽脑汁地想：该怎么办呢？对</tspan><tspan x="82.5" dy="21.4">了，妈妈藏书，那我就找书，于是我翻箱倒柜</tspan><tspan x="82.5" dy="21.4">找。功夫不负有心人，经过我的"艰苦奋战"，</tspan><tspan x="82.5" dy="21.4">终于找到了这三本书，它们都被藏在衣服下面</tspan><tspan x="82.5" dy="21.4">。找到书，我高兴得合不拢嘴，立马就津津有</tspan><tspan x="82.5" dy="21.4">味地看起来了。</tspan></text></g>
<g id="flb"><rect class="kB" x="73" y="2684" width="354" height="146.9" rx="8"/><text class="lf tB" x="82.5" y="2709.5"><tspan x="82.5" dy="0">一小时过去了，两小时过去了……我连中午饭</tspan><tspan x="82.5" dy="21.4">都没吃，但一点儿也没觉得肚子饿。我看得全</tspan><tspan x="82.5" dy="21.4">神贯注、不能自拔。书中的故事情境曲折，我</tspan><tspan x="82.5" dy="21.4">的心似乎跟书中的人物揪在了一起。直到妈妈</tspan><tspan x="82.5" dy="21.4">回来，揪着我的耳朵说："你又在看书。"时，</tspan><tspan x="82.5" dy="21.4">我才暂时放下书。</tspan></text></g>
<g id="flc"><rect class="kB" x="73" y="2867" width="354" height="61.3" rx="8"/><text class="lf tB" x="82.5" y="2892.5"><tspan x="82.5" dy="0">因为看了很多的书，我的成绩进步了，这应该</tspan><tspan x="82.5" dy="21.4">就是书给我的回报吧。</tspan></text></g>

<!-- Left leaves 8 -->
<g id="l8a"><rect class="kG" x="458" y="2963.5" width="355" height="82.7" rx="8"/><text class="lf tG" x="467.5" y="2989"><tspan x="467.5" dy="0">经典的作品如醇香的美酒，令人回味无穷；优</tspan><tspan x="467.5" dy="21.4">美的文章如芳香的花朵，令人陶醉其中；典雅</tspan><tspan x="467.5" dy="21.4">的诗词如闪亮的珍珠，光彩夺目，历久弥新。</tspan></text></g>
<g id="l8b"><rect class="kG" x="458" y="3082" width="355" height="168.3" rx="8"/><text class="lf tG" x="467.5" y="3107.5"><tspan x="467.5" dy="0">小时候，阅读可爱的唐老鸭，憨厚的浣熊、滑</tspan><tspan x="467.5" dy="21.4">稽的熊猫让我时而着迷，时而捧腹大笑。中国</tspan><tspan x="467.5" dy="21.4">的长城、法国的埃菲尔铁塔、英国的大本钟、</tspan><tspan x="467.5" dy="21.4">巴黎的空中花园、埃及的金字塔令我赞叹大千</tspan><tspan x="467.5" dy="21.4">世界无奇不有！那些趣味十足的小故事、深刻</tspan><tspan x="467.5" dy="21.4">的道理、新颖的知识像一块磁铁吸引着我，让</tspan><tspan x="467.5" dy="21.4">我养成了爱读书的好习惯。</tspan></text></g>
<g id="l8c"><rect class="kG" x="458" y="3287" width="355" height="82.7" rx="8"/><text class="lf tG" x="467.5" y="3312.5"><tspan x="467.5" dy="0">一本好书可以净化人的心灵，改变人的一生。</tspan><tspan x="467.5" dy="21.4">当我想偷懒时，我会想"今日事，今日毕"，因</tspan><tspan x="467.5" dy="21.4">此我便打起精神，重新振作起来。</tspan></text></g>

<!-- Left leaves 10 -->
<g id="l10a"><rect class="kY" x="445" y="3405" width="356" height="61.3" rx="8"/><text class="lf tY" x="454.5" y="3430.5"><tspan x="454.5" dy="0">杜甫说得好："读书破万卷，下笔如有神。"我</tspan><tspan x="454.5" dy="21.4">迷上了看书，成了一个爱看书的"小书迷"。</tspan></text></g>
<g id="l10b"><rect class="kY" x="445" y="3501" width="356" height="168.3" rx="8"/><text class="lf tY" x="454.5" y="3526.5"><tspan x="454.5" dy="0">我和书成了形影不离的好朋友。每当我无聊时</tspan><tspan x="454.5" dy="21.4">，我就捧起书，遨游知识的王国，积累许多的</tspan><tspan x="454.5" dy="21.4">好词好句，丰富了我的词汇；认识了许多品德</tspan><tspan x="454.5" dy="21.4">高尚的朋友，他们身上的闪光点时时照耀着我</tspan><tspan x="454.5" dy="21.4">的心灵；游览我们祖国的无限美好风光，陶冶</tspan><tspan x="454.5" dy="21.4">了我的性情……书给我提供了丰盛的精神食粮</tspan><tspan x="454.5" dy="21.4">，让我总是爱不释手。</tspan></text></g>
<g id="l10c"><rect class="kY" x="445" y="3706.7" width="356" height="382.3" rx="8"/><text class="lf tY" x="454.5" y="3732.2"><tspan x="454.5" dy="0">在一个阴森森，伸手不见五指的夜晚，我做完</tspan><tspan x="454.5" dy="21.4">作业正靠在床上看沈石溪的小说《狼王梦》。</tspan><tspan x="454.5" dy="21.4">讲述了一只母狼想四只雄狼登上王位而失败的</tspan><tspan x="454.5" dy="21.4">故事。当我津津有味地看到精彩段落时，突然</tspan><tspan x="454.5" dy="21.4">，一个严厉的声音从我耳边传来："九点多钟</tspan><tspan x="454.5" dy="21.4">了，睡觉吧！"我仔细一看，原来是妈妈站在</tspan><tspan x="454.5" dy="21.4">房门口，正催我睡觉呢。我不理她，皱起眉头</tspan><tspan x="454.5" dy="21.4">心想：我还没有看够呢！古人看书都是废寝忘</tspan><tspan x="454.5" dy="21.4">，挑灯夜读，我怎么不可以？因此，我继续看</tspan><tspan x="454.5" dy="21.4">我喜欢的书。光阴似箭，已经十点多钟了，我</tspan><tspan x="454.5" dy="21.4">的眼前忽然一黑，老妈又催我道："关灯！睡</tspan><tspan x="454.5" dy="21.4">觉！"我还是不肯放下，说道："再看一会儿。</tspan><tspan x="454.5" dy="21.4">"妈妈语重心长地说："不能再看了，不然明天</tspan><tspan x="454.5" dy="21.4">起不了床的哦。"听了妈妈的话，我转念一想</tspan><tspan x="454.5" dy="21.4">：读得太晚，早上起不来，上课也会无精打采</tspan><tspan x="454.5" dy="21.4">。妈妈说得对。于是，我改变了主意，就依依</tspan><tspan x="454.5" dy="21.4">不舍地合上书上床睡觉了。</tspan></text></g>
<g id="l10d"><rect class="kY" x="445" y="4129" width="356" height="125.5" rx="8"/><text class="lf tY" x="454.5" y="4154.5"><tspan x="454.5" dy="0">"书是人类进步的阶梯。"每当我读一本好书，</tspan><tspan x="454.5" dy="21.4">就像乘着一艘小船在知识的海洋里游荡，开阔</tspan><tspan x="454.5" dy="21.4">了我的视野，拓宽了我的眼界。也像在和一个</tspan><tspan x="454.5" dy="21.4">品德高尚的人谈话，让自己也不知不觉沉浸在</tspan><tspan x="454.5" dy="21.4">美好的意境中。</tspan></text></g>
<g id="l10e"><rect class="kY" x="581" y="4289.5" width="220" height="39.9" rx="8"/><text class="lf tY" x="590.5" y="4315"><tspan x="590.5" dy="0">我爱看书，也迷上了看书。</tspan></text></g>
</g>
</svg>
